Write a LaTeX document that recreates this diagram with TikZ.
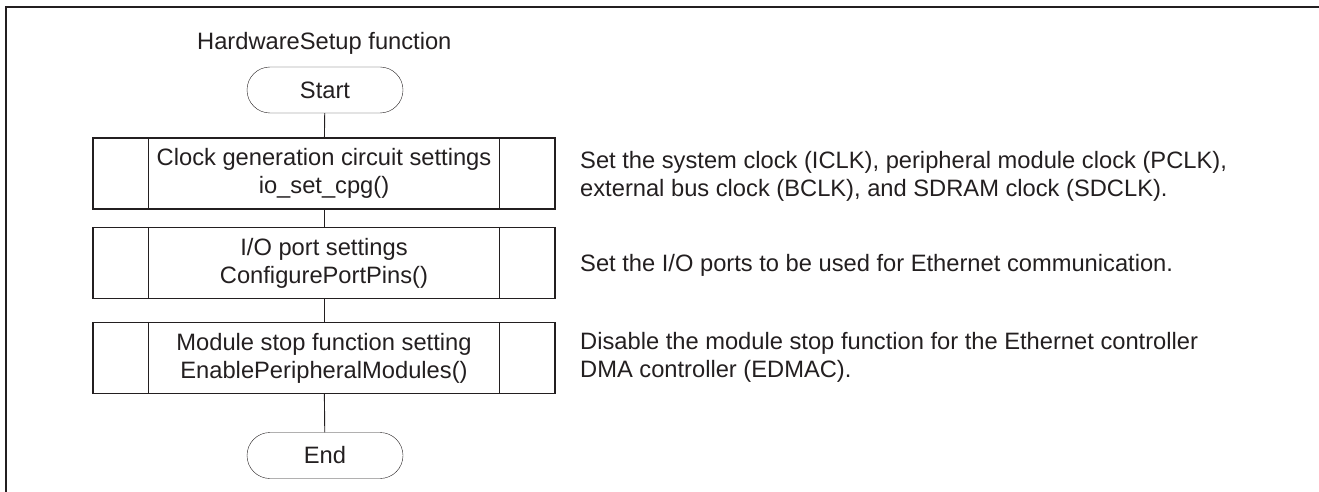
\documentclass[tikz,border=0pt]{standalone}
\usepackage{fontspec}
\setmainfont{Liberation Sans}
\usetikzlibrary{calc}
\definecolor{ink}{RGB}{35,31,32}
\tikzset{
	terminal/.style={draw, rounded corners=23pt, minimum width=156pt, minimum height=46pt, inner sep=0pt},
	procbox/.style={draw, line width=1.2pt, minimum width=462pt, minimum height=71pt, align=center, inner sep=0pt},
	remark/.style={anchor=west, align=left, inner sep=0pt},
	link/.style={line width=0.9pt}
}
\newcommand{\subproc}[3] % name, y centre in px, text
{
	% box
	\node[procbox] (#1) at (324,#2) {#3};
	% side bars
	\draw[line width=1.2pt] ($(#1.north west)+(56,0)$) -- ($(#1.south west)+(56,0)$);
	\draw[line width=1.2pt] ($(#1.north east)+(-56,0)$) -- ($(#1.south east)+(-56,0)$);
}

\begin{document}
\begin{tikzpicture}[x=1pt, y=-1pt, draw=ink, text=ink, font=\fontsize{23.7pt}{28pt}\selectfont]
	% 1319 x 492 px
	\useasboundingbox (0,0) rectangle (1319,492);
	\draw[line width=2pt] (1319,7) -- (6,7) -- (6,492);
	
	\node[anchor=west, inner sep=0pt] (title) at (197,43) {HardwareSetup function};
	
	\node[terminal] (start) at (325,90) {Start};
	
	\subproc{cpg}{173.5}{Clock generation circuit settings\\io\_set\_cpg()};
	\subproc{port}{263}{I/O port settings\\ConfigurePortPins()};
	\subproc{mstp}{358}{Module stop function setting\\EnablePeripheralModules()};
	
	\node[terminal] (end) at (325,455.5) {End};
	
	\draw[link] (start) -- (cpg);
	\draw[link] (cpg) -- (port);
	\draw[link] (port) -- (mstp);
	\draw[link] (mstp) -- (end);
	
	% notes
	\node[remark] (cpgnote) at (580,176) {Set the system clock (ICLK), peripheral module clock (PCLK),\\external bus clock (BCLK), and SDRAM clock (SDCLK).};
	\node[remark] (portnote) at (580,265) {Set the I/O ports to be used for Ethernet communication.};
	\node[remark] (mstpnote) at (580,357) {Disable the module stop function for the Ethernet controller\\DMA controller (EDMAC).};
	
\end{tikzpicture}
\end{document}
